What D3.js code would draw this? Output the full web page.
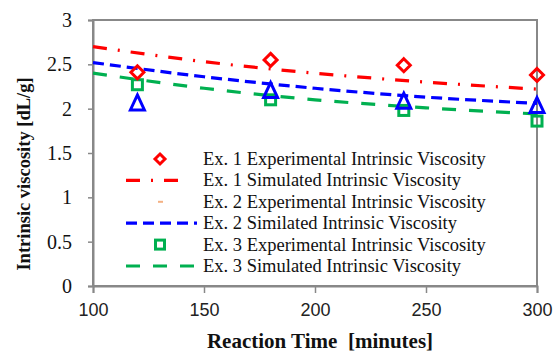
<!DOCTYPE html>
<html><head><meta charset="utf-8">
<script src="https://cdn.jsdelivr.net/npm/d3@7"></script>
<style>body{margin:0;background:#fff}svg{display:block}</style>
</head><body><svg id="c" width="553" height="352"></svg>
<script>
const times = [120, 180, 240, 300];
const ex1Exp = [2.41, 2.55, 2.49, 2.38];
const ex2Exp = [2.07, 2.21, 2.09, 2.04];
const ex3Exp = [2.27, 2.10, 1.98, 1.86];
const simTimes = [100, 150, 200, 250, 300];
const ex1Sim = [2.70, 2.53, 2.40, 2.30, 2.22];
const ex2Sim = [2.52, 2.36, 2.23, 2.13, 2.06];
const ex3Sim = [2.40, 2.23, 2.10, 2.01, 1.94];
const xTicks = [100, 150, 200, 250, 300];
const yTicks = [0, 0.5, 1, 1.5, 2, 2.5, 3];
const yTickLabels = ["0", "0.5", "1", "1.5", "2", "2.5", "3"];
const legendLabels = [
  "Ex. 1 Experimental Intrinsic Viscosity",
  "Ex. 1 Simulated Intrinsic Viscosity",
  "Ex. 2 Experimental Intrinsic Viscosity",
  "Ex. 2 Similated Intrinsic Viscosity",
  "Ex. 3 Experimental Intrinsic Viscosity",
  "Ex. 3 Simulated Intrinsic Viscosity"
];

const RED = "#ff0000", BLUE = "#0000ff", GREEN = "#00b050", SALMON = "#f4b183";
const svg = d3.select("#c");
const x = d3.scaleLinear().domain([100, 300]).range([93, 537]);
const y = d3.scaleLinear().domain([0, 3]).range([286, 20]);
const axisColor = "#888";

// frame
svg.append("rect").attr("x", 93).attr("y", 20).attr("width", 444).attr("height", 266)
  .attr("fill", "none").attr("stroke", axisColor).attr("stroke-width", 2);

const gx = svg.append("g").attr("transform", "translate(0,286)")
  .call(d3.axisBottom(x).tickValues(xTicks).tickSize(7).tickPadding(10));
gx.select(".domain").attr("stroke", axisColor).attr("stroke-width", 2);
gx.selectAll(".tick line").attr("stroke", axisColor).attr("stroke-width", 1.5);
gx.selectAll(".tick text").attr("font-family", "Liberation Sans, Arial, sans-serif")
  .attr("font-size", 18).attr("fill", "#222");

const gy = svg.append("g").attr("transform", "translate(93,0)")
  .call(d3.axisLeft(y).tickValues(yTicks).tickFormat((d, i) => yTickLabels[i]).tickSize(5).tickPadding(16));
gy.select(".domain").attr("stroke", axisColor).attr("stroke-width", 2);
gy.selectAll(".tick line").attr("stroke", axisColor).attr("stroke-width", 1.5);
gy.selectAll(".tick text").attr("font-family", "Liberation Serif, Times New Roman, serif")
  .attr("font-size", 20).attr("fill", "#111");

// simulated lines
const line = d3.line().x(d => x(d[0])).y(d => y(d[1])).curve(d3.curveMonotoneX);
const sims = [
  {v: ex1Sim, c: RED, dash: "14,11,2,11"},
  {v: ex2Sim, c: BLUE, dash: "11,6"},
  {v: ex3Sim, c: GREEN, dash: "14,13"}
];
sims.forEach(s => {
  svg.append("path").datum(simTimes.map((t, i) => [t, s.v[i]]))
    .attr("d", line).attr("fill", "none").attr("stroke", s.c)
    .attr("stroke-width", 3.2).attr("stroke-dasharray", s.dash);
});

// markers
function diamond(g, cx, cy, r) {
  g.append("path").attr("d", `M${cx},${cy - r}L${cx + r},${cy}L${cx},${cy + r}L${cx - r},${cy}Z`)
    .attr("fill", "none").attr("stroke", RED).attr("stroke-width", 3);
}
function triangle(g, cx, cy, w, h) {
  g.append("path").attr("d", `M${cx},${cy - h / 2}L${cx + w / 2},${cy + h / 2}L${cx - w / 2},${cy + h / 2}Z`)
    .attr("fill", "none").attr("stroke", BLUE).attr("stroke-width", 3);
}
function square(g, cx, cy, s) {
  g.append("rect").attr("x", cx - s / 2).attr("y", cy - s / 2).attr("width", s).attr("height", s)
    .attr("fill", "none").attr("stroke", GREEN).attr("stroke-width", 3);
}
const mk = svg.append("g");
times.forEach((t, i) => {
  square(mk, x(t), y(ex3Exp[i]), 10);
  triangle(mk, x(t), y(ex2Exp[i]), 14, 15);
  diamond(mk, x(t), y(ex1Exp[i]), 6.5);
});

// legend
const lg = svg.append("g");
const ly0 = 159, ldy = 21.4, tx = 203;
legendLabels.forEach((lab, i) => {
  const yy = ly0 + i * ldy;
  lg.append("text").attr("x", tx).attr("y", yy + 6).text(lab)
    .attr("font-family", "Liberation Serif, Times New Roman, serif").attr("font-size", 18.5).attr("fill", "#111");
});
diamond(lg, 160, ly0, 5);
lg.append("line").attr("x1", 126).attr("x2", 184).attr("y1", ly0 + ldy).attr("y2", ly0 + ldy)
  .attr("stroke", RED).attr("stroke-width", 3.2).attr("stroke-dasharray", "14,11,2,11");
lg.append("line").attr("x1", 158).attr("x2", 163).attr("y1", ly0 + 2 * ldy).attr("y2", ly0 + 2 * ldy)
  .attr("stroke", SALMON).attr("stroke-width", 2);
lg.append("line").attr("x1", 126).attr("x2", 197).attr("y1", ly0 + 3 * ldy).attr("y2", ly0 + 3 * ldy)
  .attr("stroke", BLUE).attr("stroke-width", 3.2).attr("stroke-dasharray", "11,6");
square(lg, 160, ly0 + 4 * ldy, 9);
lg.append("line").attr("x1", 126).attr("x2", 197).attr("y1", ly0 + 5 * ldy).attr("y2", ly0 + 5 * ldy)
  .attr("stroke", GREEN).attr("stroke-width", 3.2).attr("stroke-dasharray", "14,13");

// titles
svg.append("text").attr("x", 320).attr("y", 348).attr("text-anchor", "middle")
  .attr("font-family", "Liberation Serif, Times New Roman, serif").attr("font-weight", "bold")
  .attr("font-size", 21).attr("fill", "#111").attr("xml:space", "preserve").text("Reaction Time  [minutes]");
svg.append("text").attr("transform", "translate(30,174) rotate(-90)").attr("text-anchor", "middle")
  .attr("font-family", "Liberation Serif, Times New Roman, serif").attr("font-weight", "bold")
  .attr("font-size", 18.5).attr("fill", "#111").text("Intrinsic viscosity [dL/g]");
</script></body></html>
